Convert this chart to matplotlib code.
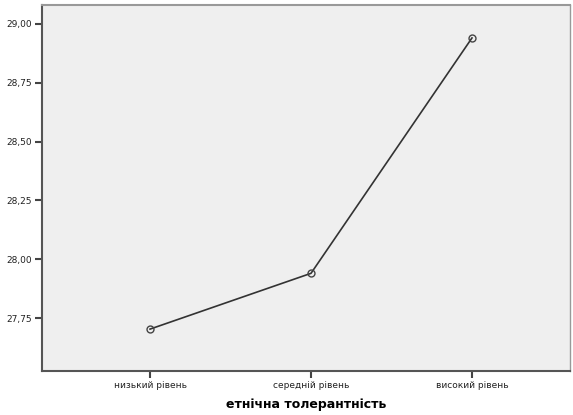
import matplotlib
matplotlib.use("Agg")
from matplotlib import pyplot as plt

plt.rcParams['font.family'] = ['DejaVu Sans']

levels = ["низький рівень", "середній рівень", "високий рівень"]
means = [27.703, 27.94, 28.94]
yticks = [27.75, 28.00, 28.25, 28.50, 28.75, 29.00]
ytick_labels = ["27,75", "28,00", "28,25", "28,50", "28,75", "29,00"]

fig = plt.figure(figsize=(5.73, 4.15), dpi=100)
ax = fig.add_axes([0.0733, 0.106, 0.9215, 0.882])
ax.set_facecolor("#efefef")

x = list(range(len(levels)))
ax.plot(x, means, color="#333333", linewidth=1.2, marker="o", markersize=5,
        markerfacecolor="none", markeredgecolor="#444444", markeredgewidth=1)

ax.set_xlim(-0.671, 2.609)
ax.set_ylim(27.525, 29.08)
ax.set_xticks(x)
ax.set_xticklabels(levels, fontsize=6.5, color="#222222")
ax.set_yticks(yticks)
ax.set_yticklabels(ytick_labels, fontsize=6.5, color="#222222")
ax.tick_params(axis="both", direction="out", length=5, width=1.5, color="#444444", pad=2)

for s in ax.spines.values():
    s.set_color("#555555")
    s.set_linewidth(1.5)
ax.spines["top"].set_color("#999999")
ax.spines["right"].set_color("#999999")
ax.spines["right"].set_linewidth(1)

ax.set_xlabel("етнічна толерантність", fontsize=9, fontweight="bold", labelpad=6)

fig.savefig("out.png", dpi=100)
